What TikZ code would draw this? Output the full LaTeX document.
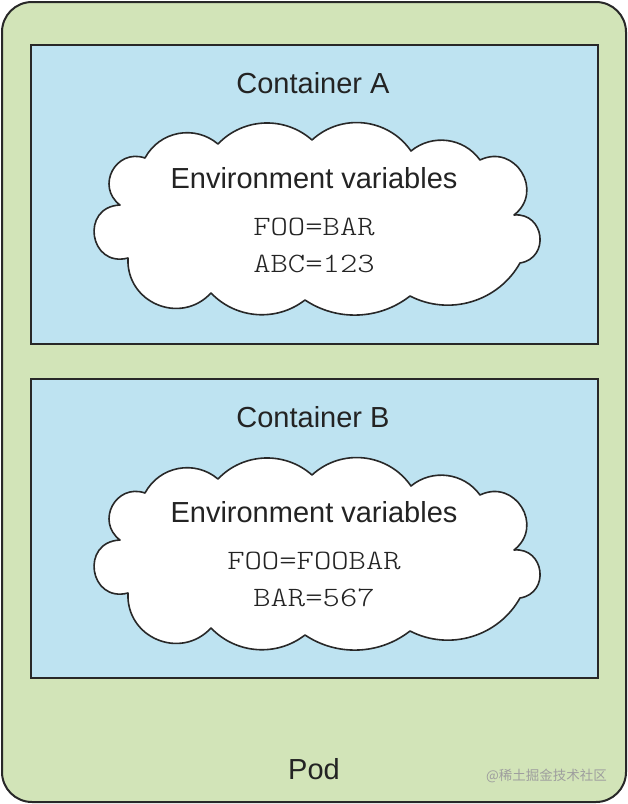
\documentclass[tikz,border=0pt]{standalone}
\usepackage{fontspec}
\setmainfont{Liberation Sans}
\newfontfamily\vartt{lmmonolt10-regular}[Extension=.otf,FakeStretch=1.18]
\newfontfamily\cjkfont{Noto Sans CJK SC}
\definecolor{podgreen}{RGB}{210,228,184}
\definecolor{boxblue}{RGB}{190,227,241}
\definecolor{edge}{RGB}{40,40,40}
\definecolor{ink}{RGB}{35,35,35}
\begin{document}
\begin{tikzpicture}[x=1pt,y=-1pt,
  pod/.style={draw=edge,line width=2pt,fill=podgreen,rounded corners=30pt},
  cbox/.style={draw=edge,line width=1.6pt,fill=boxblue},
  cloudline/.style={draw=edge,line width=1.6pt,fill=white,line join=round},
  title/.style={font=\fontsize{29}{32}\selectfont,text=ink,inner sep=0pt},
  var/.style={font=\vartt\fontsize{28}{30}\selectfont,text=ink,inner sep=0pt},
  wm/.style={font=\cjkfont\fontsize{13.5}{16}\selectfont,text=black!38,inner sep=0pt},
  pics/envcloud/.style={code={
    \draw[cloudline] (-170,-61)
      to[bend left=51,looseness=1.05] (-97,-75)
      to[bend left=44,looseness=0.99] (-3,-79)
      to[bend left=49,looseness=1.03] (96,-68)
      to[bend left=47,looseness=1.01] (165,-59)
      to[bend left=84,looseness=1.54] (199,-4)
      to[bend left=88,looseness=1.63] (205,44)
      to[bend left=44,looseness=0.99] (95,77)
      to[bend left=36,looseness=0.94] (-10,81)
      to[bend left=42,looseness=0.98] (-104,74)
      to[bend left=70,looseness=1.27] (-187,39)
      to[bend left=96,looseness=1.92] (-195,-14)
      to[bend left=81,looseness=1.48] (-170,-61) -- cycle;
  }}
]
\useasboundingbox (0,0) rectangle (628,804);
\draw[pod] (2,2) rectangle (626,802);
\draw[cbox] (31,45) rectangle (598,344);
\draw[cbox] (31,379) rectangle (598,678);
\pic at (315,219) {envcloud};
\pic at (315,554) {envcloud};
\node[title] (ta) at (313,83) {Container A};
\node[title] (ea) at (314,178) {Environment variables};
\node[var] (va1) at (314,227) {FOO=BAR};
\node[var] (va2) at (314,264) {ABC=123};
\node[title] (tb) at (313,417) {Container B};
\node[title] (eb) at (314,512) {Environment variables};
\node[var] (vb1) at (314,561) {FOO=FOOBAR};
\node[var] (vb2) at (314,598) {BAR=567};
\node[title] (podlabel) at (314,769) {Pod};
\node[wm,anchor=east] (wmark) at (607,776) {@稀土掘金技术社区};
\end{tikzpicture}
\end{document}
